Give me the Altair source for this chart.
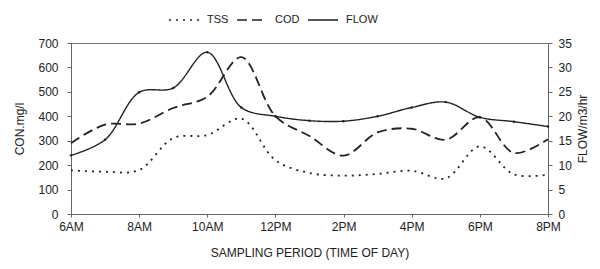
import altair as alt
import pandas as pd

hours = list(range(6, 21))
tss = [179, 173, 180, 311, 323, 390, 220, 168, 157, 164, 177, 146, 277, 162, 161]
cod = [290, 366, 370, 434, 480, 642, 400, 319, 239, 334, 349, 304, 396, 250, 306]
flow = [12.0, 15.2, 24.9, 25.8, 33.1, 21.8, 20.0, 19.1, 19.0, 20.0, 21.8, 22.9, 19.8, 18.9, 17.9]

tick_hours = [6, 8, 10, 12, 14, 16, 18, 20]
tick_labels = ["6AM", "8AM", "10AM", "12PM", "2PM", "4PM", "6PM", "8PM"]
series_names = ["TSS", "COD", "FLOW"]

rows = []
for h, t, c in zip(hours, tss, cod):
    rows.append({"hour": h, "series": "TSS", "value": t})
    rows.append({"hour": h, "series": "COD", "value": c})
con_df = pd.DataFrame(rows)
flow_df = pd.DataFrame({"hour": hours, "series": ["FLOW"] * len(hours), "value": flow})

label_expr = "[" + ",".join("'%s'" % s for s in tick_labels) + "][(datum.value-6)/2]"

FONT = "Liberation Sans"
INK = "#222222"

x_enc = alt.X(
    "hour:Q",
    scale=alt.Scale(domain=[6, 20], nice=False, zero=False),
    axis=alt.Axis(
        values=tick_hours, labelExpr=label_expr, title="SAMPLING PERIOD (TIME OF DAY)",
        grid=False, tickSize=3, labelPadding=4, titlePadding=15, labelFlush=False,
    ),
)

dash = alt.StrokeDash(
    "series:N",
    scale=alt.Scale(domain=series_names, range=[[2, 5], [10, 5], [1, 0]]),
    legend=alt.Legend(
        title=None, orient="none", legendX=97, legendY=-39, direction="horizontal",
        symbolType="stroke", symbolSize=900, symbolStrokeWidth=1.6, symbolStrokeColor=INK,
        labelFontSize=11, labelFont=FONT, labelColor=INK, columnPadding=4, labelOffset=7,
    ),
    sort=series_names,
)

left = alt.Chart(con_df).mark_line(
    interpolate="catmull-rom", color=INK, strokeWidth=1.8
).encode(
    x=x_enc,
    y=alt.Y(
        "value:Q",
        scale=alt.Scale(domain=[0, 700], nice=False),
        axis=alt.Axis(
            values=list(range(0, 701, 100)), title="CON.mg/l", grid=False,
            tickSize=4, labelPadding=9, titlePadding=11, orient="left",
        ),
    ),
    strokeDash=dash,
)

y_right = alt.Y(
    "value:Q",
    scale=alt.Scale(domain=[0, 35], nice=False),
    axis=alt.Axis(
        values=list(range(0, 36, 5)), title="FLOW/m3/hr", grid=False,
        tickSize=4, labelPadding=6, titlePadding=6, orient="right",
        titleAngle=270, titleBaseline="top",
    ),
)

right_line = alt.Chart(flow_df).mark_line(
    interpolate="catmull-rom", color=INK, strokeWidth=1.4
).encode(x=x_enc, y=y_right, strokeDash=dash)

right_pts = alt.Chart(flow_df).mark_point(
    filled=True, color=INK, size=6, opacity=1
).encode(x=x_enc, y=y_right)

right = alt.layer(right_line, right_pts)

chart = alt.layer(left, right).resolve_scale(y="independent").properties(
    width=477, height=171,
    autosize=alt.AutoSizeParams(type="none"),
    padding={"left": 63, "top": 35, "right": 44, "bottom": 47},
    background="white",
).configure_view(
    stroke="#777777", strokeWidth=1
).configure_axis(
    labelFont=FONT, titleFont=FONT, labelFontSize=12, titleFontSize=12,
    labelColor=INK, titleColor=INK, titleFontWeight="normal",
    domainColor="#666666", tickColor="#666666",
)

chart.save("out.html", embed_options={"renderer": "svg", "actions": False})
